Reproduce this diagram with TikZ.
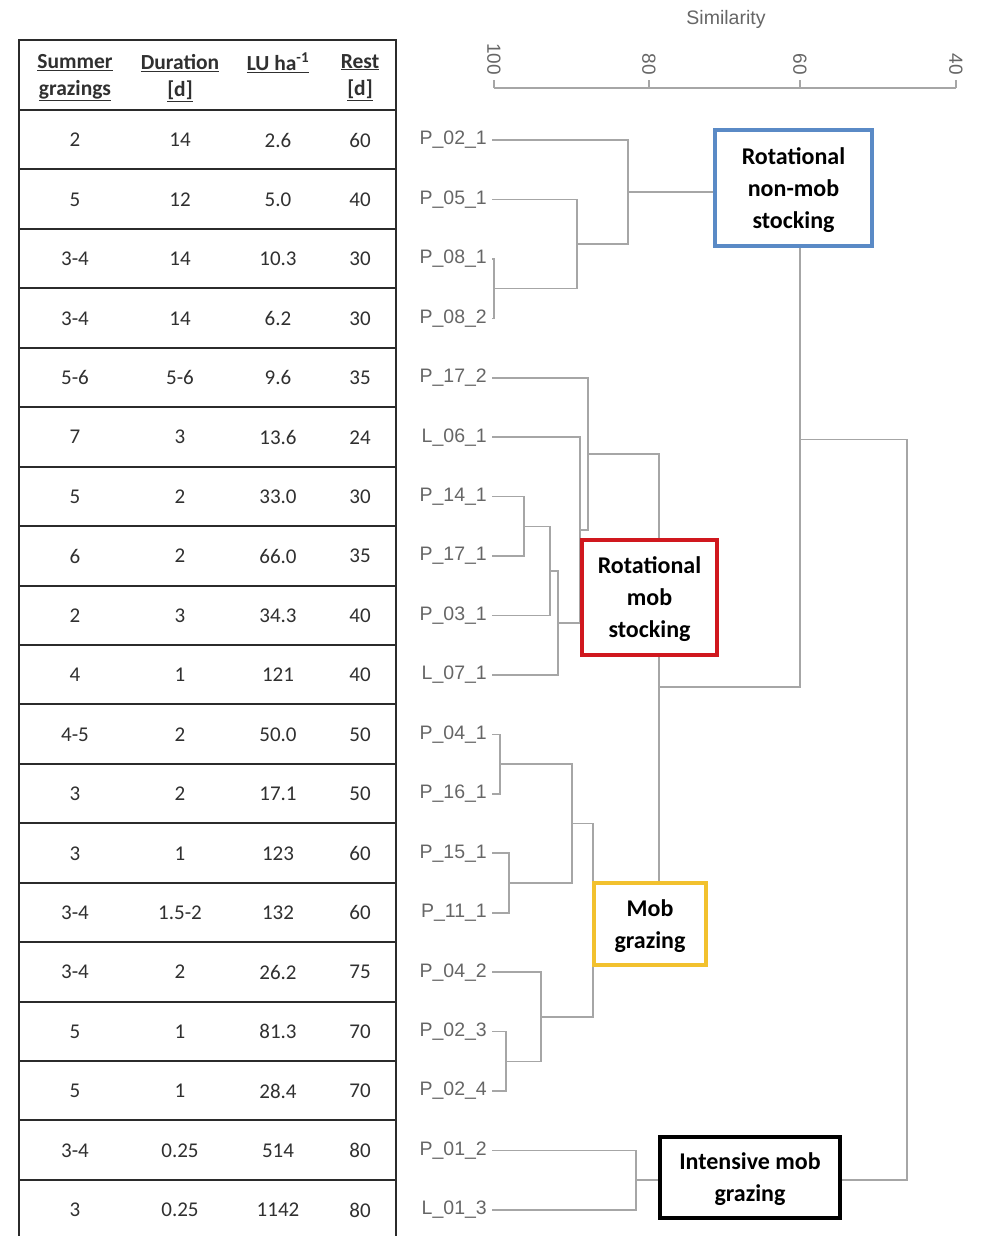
\documentclass[tikz,border=0pt]{standalone}
\usepackage{fontspec}
\setmainfont{Carlito}
\newfontfamily\arialf{Liberation Sans}
\definecolor{tabline}{HTML}{2B2B2B}
\definecolor{tabtext}{HTML}{303030}
\definecolor{leafgrey}{HTML}{666666}
\definecolor{dendgrey}{HTML}{A6A6A6}
\definecolor{boxblue}{HTML}{5A8AC6}
\definecolor{boxred}{HTML}{D0181E}
\definecolor{boxyellow}{HTML}{F2C12E}
\begin{document}
\begin{tikzpicture}[x=1pt,y=-1pt,
  tline/.style={draw=tabline, line width=2pt},
  cell/.style={font=\fontsize{21}{25}\selectfont, text=tabtext, inner sep=0pt},
  head/.style={font=\fontsize{21.5}{27}\selectfont\bfseries, text=tabtext, align=center, inner sep=0pt, anchor=north},
  leaf/.style={anchor=east, font=\arialf\fontsize{19.5}{22}\selectfont, text=leafgrey, inner xsep=5pt, inner ysep=0pt},
  dend/.style={draw=dendgrey, line width=1.6pt},
  grp/.style={draw=#1, line width=3.5pt, fill=white, align=center, text=black,
    font=\fontsize{24}{32}\selectfont\bfseries, inner sep=0pt, text depth=-3pt},
  axisline/.style={draw=dendgrey, line width=1.5pt},
  ticklab/.style={font=\arialf\fontsize{19}{20}\selectfont, text=leafgrey, rotate=-90, anchor=east, inner sep=0pt}]
\useasboundingbox[fill=white] (0,0) rectangle (981,1236);

% ---------- table ----------
\draw[tline] (19,1236) -- (19,40) -- (396,40) -- (396,1236);
\draw[tline] (19,110) -- (396,110);
\foreach \k in {1,...,18}{
  \draw[tline] (19,{110+59.44*\k}) -- (396,{110+59.44*\k});
}
\node[head] (h1) at (75,54) {\underline{Summer}\\\underline{grazings}};
\node[head] (h2) at (180,54) {\underline{Duration}\\\underline{[d]}};
\node[head] (h3) at (278,53) {\underline{LU ha\textsuperscript{-1}}};
\node[head] (h4) at (360,54) {\underline{Rest}\\\underline{[d]}};
\foreach [count=\i] \a/\b/\c/\d in {2/14/2.6/60, 5/12/5.0/40, 3-4/14/10.3/30, 3-4/14/6.2/30,
  5-6/5-6/9.6/35, 7/3/13.6/24, 5/2/33.0/30, 6/2/66.0/35, 2/3/34.3/40, 4/1/121/40,
  4-5/2/50.0/50, 3/2/17.1/50, 3/1/123/60, 3-4/1.5-2/132/60, 3-4/2/26.2/75,
  5/1/81.3/70, 5/1/28.4/70, 3-4/0.25/514/80, 3/0.25/1142/80}{
  \node[cell] (t\i a) at (75,{140+59.44*(\i-1)}) {\a};
  \node[cell] (t\i b) at (180,{140+59.44*(\i-1)}) {\b};
  \node[cell] (t\i c) at (278,{140+59.44*(\i-1)}) {\c};
  \node[cell] (t\i d) at (360,{140+59.44*(\i-1)}) {\d};
}

% ---------- axis ----------
\node[font=\arialf\fontsize{19.5}{22}\selectfont, text=leafgrey] (simlab) at (726,19) {Similarity};
\coordinate (ax100) at (494,88);
\coordinate (ax80) at (649,88);
\coordinate (ax60) at (800,88);
\coordinate (ax40) at (956,88);
\draw[axisline] (ax100) -- (ax40);
\foreach \p/\v in {ax100/100, ax80/80, ax60/60, ax40/40}{
  \draw[axisline] (\p) -- ++(0,-8);
  \node[ticklab] at ([yshift=13pt]\p) {\v};
}

% ---------- leaves ----------
\foreach [count=\i] \n/\lab in {p021/P\_02\_1, p051/P\_05\_1, p081/P\_08\_1, p082/P\_08\_2,
  p172/P\_17\_2, l061/L\_06\_1, p141/P\_14\_1, p171/P\_17\_1, p031/P\_03\_1, l071/L\_07\_1,
  p041/P\_04\_1, p161/P\_16\_1, p151/P\_15\_1, p111/P\_11\_1, p042/P\_04\_2, p023/P\_02\_3,
  p024/P\_02\_4, p012/P\_01\_2, l013/L\_01\_3}{
  \node[leaf] (\n) at (492,{140+59.44*(\i-1)}) {\lab};
}

% ---------- merge points ----------
\coordinate (c1) at (494,288.6);
\coordinate (c2) at (577,244.02);
\coordinate (c3) at (628,192.01);
\coordinate (c4) at (524,526.36);
\coordinate (c5) at (550,570.94);
\coordinate (c6) at (558,622.95);
\coordinate (c7) at (580,530.08);
\coordinate (c8) at (588,453.92);
\coordinate (c9) at (500,764.12);
\coordinate (c10) at (509,883);
\coordinate (c11) at (572,823.56);
\coordinate (c12) at (506,1061.32);
\coordinate (c13) at (541,1016.74);
\coordinate (c14) at (593,920.15);
\coordinate (c15) at (659,687.04);
\coordinate (c16) at (800,439.5);
\coordinate (c17) at (636,1180.2);
\coordinate (c18) at (907,809.85);

% ---------- dendrogram ----------
\draw[dend] (p081.east) -| (c1) |- (p082.east);
\draw[dend] (p051.east) -| (c2) |- (c1);
\draw[dend] (p021.east) -| (c3) |- (c2);
\draw[dend] (p141.east) -| (c4) |- (p171.east);
\draw[dend] (c4) -| (c5) |- (p031.east);
\draw[dend] (c5) -| (c6) |- (l071.east);
\draw[dend] (l061.east) -| (c7) |- (c6);
\draw[dend] (p172.east) -| (c8) |- (c7);
\draw[dend] (p041.east) -| (c9) |- (p161.east);
\draw[dend] (p151.east) -| (c10) |- (p111.east);
\draw[dend] (c9) -| (c11) |- (c10);
\draw[dend] (p023.east) -| (c12) |- (p024.east);
\draw[dend] (p042.east) -| (c13) |- (c12);
\draw[dend] (c11) -| (c14) |- (c13);
\draw[dend] (c8) -| (c15) |- (c14);
\draw[dend] (c3) -| (c16) |- (c15);
\draw[dend] (p012.east) -| (c17) |- (l013.east);
\draw[dend] (c16) -| (c18) |- (c17);

% ---------- group boxes ----------
\node[grp=boxblue, minimum width=157pt, minimum height=116pt] (gnonmob) at (793.5,188) {Rotational\\non-mob\\stocking};
\node[grp=boxred, minimum width=135pt, minimum height=115pt] (gmobst) at (649.5,597.5) {Rotational\\mob\\stocking};
\node[grp=boxyellow, minimum width=112pt, minimum height=82pt] (gmob) at (650,924) {Mob\\grazing};
\node[grp=black, minimum width=180pt, minimum height=81pt] (gint) at (750,1177.5) {Intensive mob\\grazing};
\end{tikzpicture}
\end{document}
